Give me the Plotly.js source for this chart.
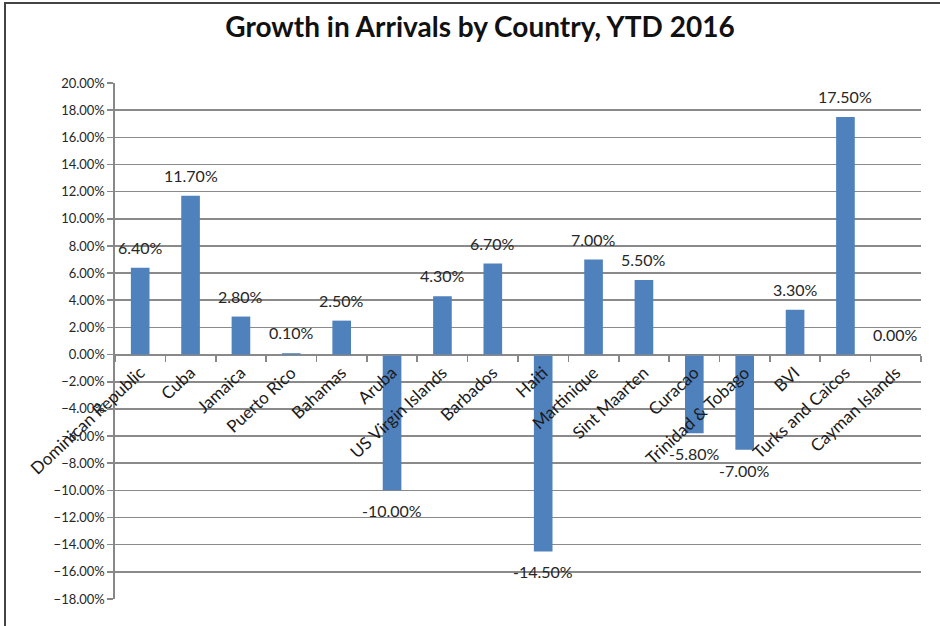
<!DOCTYPE html>
<html>
<head>
<meta charset="utf-8">
<script src="https://cdn.plot.ly/plotly-3.0.1.min.js"></script>
<style>
  html, body { margin: 0; padding: 0; background: #fff; }
  #wrap { position: relative; width: 940px; height: 626px; }
  #chart { width: 940px; height: 626px; }
  #frame { position: absolute; left: 4px; top: 2px; right: -10px; bottom: -10px;
           border-left: 2px solid #444; border-top: 2px solid #444; pointer-events: none; }
</style>
</head>
<body>
<div id="wrap"><div id="chart"></div><div id="frame"></div></div>
<script>
const countries = ["Dominican Republic", "Cuba", "Jamaica", "Puerto Rico", "Bahamas", "Aruba",
  "US Virgin Islands", "Barbados", "Haiti", "Martinique", "Sint Maarten", "Curacao",
  "Trinidad & Tobago", "BVI", "Turks and Caicos", "Cayman Islands"];
const growthPct = [6.4, 11.7, 2.8, 0.1, 2.5, -10.0, 4.3, 6.7, -14.5, 7.0, 5.5, -5.8, -7.0, 3.3, 17.5, 0.0];
const yRange = [-18, 20];
const yTick = 2;

const fontFam = "Lato, 'Open Sans', sans-serif";

const trace = {
  type: "bar",
  x: countries,
  y: growthPct,
  marker: { color: "#4F81BD" },
  cliponaxis: false,
  hoverinfo: "x+y"
};

const labels = countries.map((c, i) => ({
  x: c, y: growthPct[i], xref: "x", yref: "y",
  text: growthPct[i].toFixed(2) + "%",
  showarrow: false,
  xanchor: "center",
  yanchor: growthPct[i] >= 0 ? "bottom" : "top",
  yshift: growthPct[i] >= 0 ? 9 : -9,
  font: { family: fontFam, size: 16, color: "#262626" }
}));

const layout = {
  width: 940, height: 626,
  margin: { l: 115, r: 19, t: 83, b: 27 },
  paper_bgcolor: "#fff", plot_bgcolor: "#fff",
  showlegend: false,
  bargap: 0.63,
  annotations: labels,
  title: {
    text: "<b>Growth in Arrivals by Country, YTD 2016</b>",
    font: { family: fontFam, size: 28, color: "#111" },
    xref: "container", x: 480 / 940, xanchor: "center",
    yref: "container", y: 1 - 27 / 626, yanchor: "middle"
  },
  xaxis: {
    type: "category",
    anchor: "free",
    position: -yRange[0] / (yRange[1] - yRange[0]),
    showline: true, linecolor: "#888", linewidth: 1.6,
    ticks: "outside", tickson: "boundaries", ticklen: 6, tickcolor: "#888", tickwidth: 1.6,
    tickangle: -43,
    tickfont: { family: fontFam, size: 17, color: "#1a1a1a" },
    showgrid: false, zeroline: false, automargin: false
  },
  yaxis: {
    range: yRange,
    dtick: yTick, tick0: 0,
    tickformat: ".2f", ticksuffix: "%",
    showgrid: true, gridcolor: "#8a8a8a", gridwidth: 1.6,
    zeroline: false,
    showline: true, linecolor: "#888", linewidth: 1.6,
    ticks: "outside", ticklen: 6, tickcolor: "#888", tickwidth: 1.6,
    ticklabelstandoff: 0,
    tickfont: { family: fontFam, size: 13, color: "#262626" },
    automargin: false
  }
};

Plotly.newPlot("chart", [trace], layout, { displayModeBar: false, staticPlot: true });
</script>
</body>
</html>
